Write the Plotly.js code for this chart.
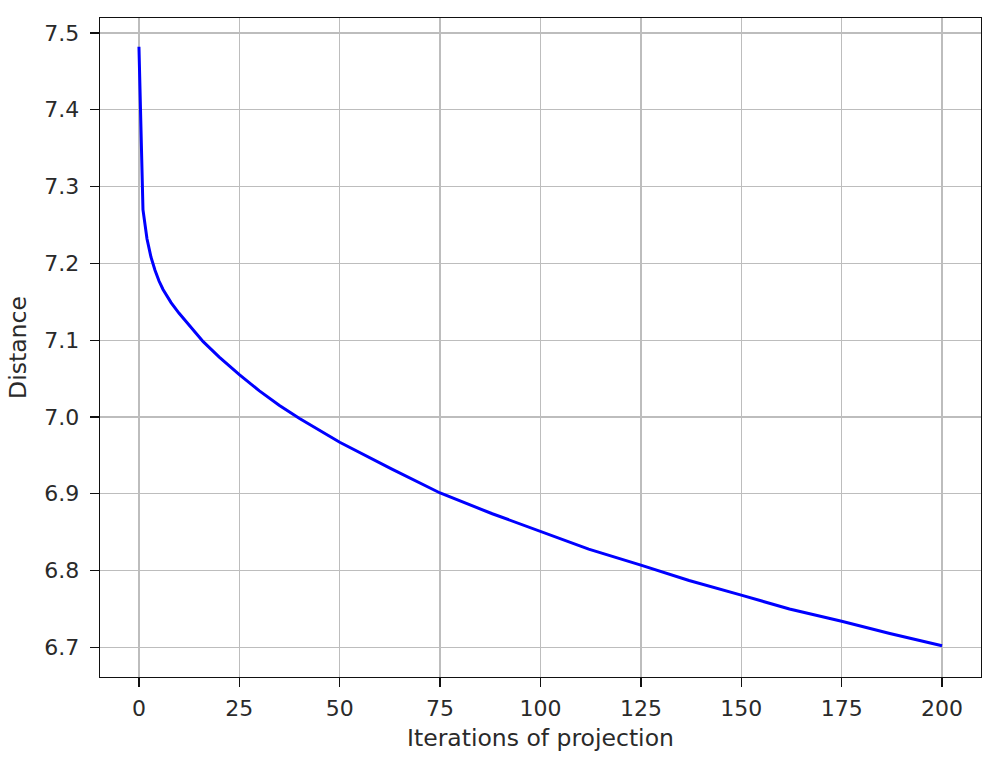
<!DOCTYPE html>
<html>
<head>
<meta charset="utf-8">
<script src="https://cdn.plot.ly/plotly-3.0.1.min.js"></script>
<style>html,body{margin:0;padding:0;background:#fff;}#chart{width:1000px;height:758px;}</style>
</head>
<body>
<div id="chart"></div>
<script>
const iterations = [0, 1, 2, 3, 4, 5, 6, 7, 8, 10, 13, 16, 20, 25, 30, 35, 40, 45, 50, 63, 75, 88, 100, 112, 125, 137, 150, 162, 175, 187, 200];
const distance = [7.482, 7.270, 7.232, 7.208, 7.191, 7.177, 7.166, 7.157, 7.149, 7.135, 7.116, 7.098, 7.078, 7.055, 7.034, 7.015, 6.998, 6.982, 6.967, 6.932, 6.901, 6.874, 6.851, 6.828, 6.807, 6.787, 6.768, 6.750, 6.734, 6.718, 6.702];
const xTicks = [0, 25, 50, 75, 100, 125, 150, 175, 200];
const yTicks = [6.7, 6.8, 6.9, 7.0, 7.1, 7.2, 7.3, 7.4, 7.5];

const tickFont = {family: 'DejaVu Sans, sans-serif', size: 22, color: '#2a2a2a'};
const titleFont = {family: 'DejaVu Sans, sans-serif', size: 23.5, color: '#2a2a2a'};
const trace = {
  x: iterations, y: distance, type: 'scatter', mode: 'lines',
  line: {color: '#0000ff', width: 3}, hoverinfo: 'skip'
};
const axisCommon = {
  showline: true, mirror: true, linecolor: '#111', linewidth: 1.4,
  showgrid: true, gridcolor: '#bdbdbd', gridwidth: 1.3,
  ticks: 'outside', ticklen: 9, tickwidth: 1.3, tickcolor: '#111',
  zeroline: false, tickfont: tickFont, automargin: false
};
const layout = {
  width: 1000, height: 758,
  margin: {l: 100, r: 19, t: 18, b: 81},
  paper_bgcolor: '#fff', plot_bgcolor: '#fff',
  showlegend: false,
  font: tickFont,
  xaxis: Object.assign({}, axisCommon, {
    range: [-9.7, 209.7], tickvals: xTicks, ticktext: xTicks.map(String),
    ticklabelstandoff: 2,
    title: {text: 'Iterations of projection', font: titleFont, standoff: 9}
  }),
  yaxis: Object.assign({}, axisCommon, {
    range: [6.6614, 7.5195], tickvals: yTicks, ticktext: yTicks.map(v => v.toFixed(1)),
    ticklabelstandoff: 6,
    title: {text: 'Distance', font: titleFont, standoff: 11}
  })
};
Plotly.newPlot('chart', [trace], layout, {displayModeBar: false, staticPlot: true});
</script>
</body>
</html>
